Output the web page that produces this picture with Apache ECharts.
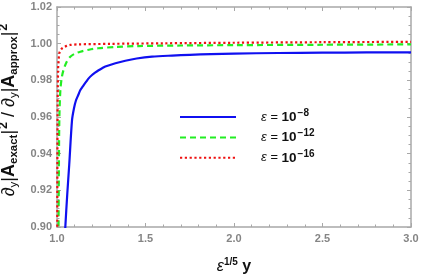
<!DOCTYPE html>
<html>
<head>
<meta charset="utf-8">
<script src="https://cdn.jsdelivr.net/npm/echarts@6/dist/echarts.min.js"></script>
<style>html,body{margin:0;padding:0;background:#fff}#c{width:421px;height:274px}</style>
</head>
<body>
<div id="c"></div>
<script>
// Data
var seriesNames = ['e8', 'e12', 'e16'];
var legendExp = ['-8', '-12', '-16'];
var blueX  = [1.045, 1.047, 1.058, 1.069, 1.085, 1.096, 1.107, 1.12, 1.132, 1.15, 1.165, 1.18, 1.198, 1.215, 1.235, 1.255, 1.273, 1.33, 1.386, 1.45, 1.537, 1.65, 1.75, 1.87, 2.0, 2.25, 2.5, 2.75, 3.0];
var blueY  = [0.895, 0.900, 0.918, 0.9338, 0.9584, 0.9648, 0.969, 0.972, 0.9747, 0.9773, 0.9793, 0.9812, 0.9829, 0.9842, 0.9855, 0.9866, 0.9875, 0.9893, 0.9907, 0.9919, 0.9929, 0.9935, 0.9939, 0.9943, 0.9946, 0.9949, 0.9951, 0.9952, 0.9953];
var greenX = [1.0085, 1.010, 1.013, 1.019, 1.027, 1.037, 1.055, 1.075, 1.10, 1.132, 1.18, 1.233, 1.33, 1.46, 1.7, 2.0, 2.5, 3.0];
var greenY = [0.895, 0.920, 0.958, 0.9747, 0.9815, 0.9857, 0.9902, 0.9929, 0.9945, 0.9956, 0.9967, 0.9975, 0.9982, 0.9987, 0.9990, 0.9992, 0.9994, 0.9996];
var redX   = [1.0015, 1.0030, 1.0060, 1.0095, 1.013, 1.020, 1.028, 1.037, 1.055, 1.075, 1.12, 1.3, 1.6, 2.0, 2.5, 3.0];
var redY   = [0.895, 0.958, 0.9857, 0.9915, 0.9948, 0.9964, 0.9974, 0.9980, 0.9988, 0.9993, 0.9996, 0.9999, 1.0002, 1.0005, 1.0008, 1.0010];
var xTicks = [1.0, 1.5, 2.0, 2.5, 3.0];
var yTicks = [0.90, 0.92, 0.94, 0.96, 0.98, 1.00, 1.02];

function pairs(xs, ys) { return xs.map(function (x, i) { return [x, ys[i]]; }); }

var chart = echarts.init(document.getElementById('c'), null, {renderer: 'canvas'});
var axisGray = '#a8a8a8';
var labelGray = '#858585';

var baseAxis = {
  axisLine: {show: true, onZero: false, lineStyle: {color: axisGray, width: 1.5}},
  axisTick: {show: true, inside: true, length: 4, lineStyle: {color: axisGray, width: 1}},
  minorTick: {show: true, length: 2.5, lineStyle: {color: axisGray, width: 1}},
  splitLine: {show: false}
};

var F = 'Liberation Sans';
var rich = {
  b: {fontSize: 18, fontFamily: F, color: '#111'},
  A: {fontSize: 18, fontFamily: F, fontWeight: 'bold', color: '#111'},
  sub: {fontSize: 11.5, fontFamily: F, fontWeight: 'bold', color: '#111', padding: [9, 0, 0, 0]},
  subn: {fontSize: 11.5, fontFamily: F, color: '#111', padding: [9, 0, 0, 0]},
  sup: {fontSize: 12.5, fontFamily: F, fontWeight: 'bold', color: '#111', padding: [0, 0, 11, 1]}
};

var option = {
  animation: false,
  backgroundColor: '#fff',
  grid: {left: 57, right: 10, top: 7, bottom: 47, containLabel: false, outerBoundsMode: 'none'},
  legend: {
    orient: 'vertical',
    left: 174, top: 103,
    itemWidth: 56, itemHeight: 14, itemGap: 4.4,
    data: seriesNames,
    itemStyle: {opacity: 0},
    formatter: function (n) {
      var i = seriesNames.indexOf(n);
      return '{e|ε = }{t|10}{s|' + legendExp[i].replace('-', '−') + '}';
    },
    textStyle: {
      rich: {
        e: {fontSize: 13, fontFamily: F, fontStyle: 'italic', color: '#111', padding: [0, 0, 0, 20]},
        t: {fontSize: 13.5, fontFamily: F, fontWeight: 'bold', color: '#111'},
        s: {fontSize: 10, fontFamily: F, fontWeight: 'bold', color: '#111', padding: [0, 0, 8, 1]}
      }
    }
  },
  xAxis: [
    Object.assign({}, baseAxis, {
      type: 'value', min: 1.0, max: 3.0, interval: 0.5, position: 'bottom',
      minorTick: Object.assign({}, baseAxis.minorTick, {splitNumber: 5}),
      axisLabel: {
        color: labelGray, fontWeight: 'bold', fontSize: 11, fontFamily: F, margin: 6,
        formatter: function (v) { return v.toFixed(1); }
      },
      name: '{e|ε}{s|1/5}{y| y}',
      nameLocation: 'middle', nameGap: 30,
      nameTextStyle: {
        rich: {
          e: {fontSize: 16, fontFamily: F, fontStyle: 'italic', color: '#111'},
          s: {fontSize: 10, fontFamily: F, fontWeight: 'bold', color: '#111', padding: [0, 0, 9, 0]},
          y: {fontSize: 16, fontFamily: F, fontWeight: 'bold', color: '#111'}
        }
      }
    }),
    Object.assign({}, baseAxis, {
      type: 'value', min: 1.0, max: 3.0, interval: 0.5, position: 'top',
      minorTick: Object.assign({}, baseAxis.minorTick, {splitNumber: 5}),
      axisLabel: {show: false}
    })
  ],
  yAxis: [
    Object.assign({}, baseAxis, {
      type: 'value', min: 0.90, max: 1.02, interval: 0.02, position: 'left',
      minorTick: Object.assign({}, baseAxis.minorTick, {splitNumber: 4}),
      axisLabel: {
        color: labelGray, fontWeight: 'bold', fontSize: 11, fontFamily: F, margin: 5,
        formatter: function (v) { return v.toFixed(2); }
      },
      name: '{b|∂}{subn|y}{b||}{A|A}{sub|exact}{b||}{sup|2}{b| / ∂}{subn|y}{b||}{A|A}{sub|approx}{b||}{sup|2}',
      nameLocation: 'middle', nameGap: 31, nameRotate: 90,
      nameTextStyle: {rich: rich, padding: [0, 0, 0, 14]}
    }),
    Object.assign({}, baseAxis, {
      type: 'value', min: 0.90, max: 1.02, interval: 0.02, position: 'right',
      minorTick: Object.assign({}, baseAxis.minorTick, {splitNumber: 4}),
      axisLabel: {show: false}
    })
  ],
  series: [
    {name: seriesNames[0], type: 'line', data: pairs(blueX, blueY), showSymbol: false, symbol: 'none',
     smooth: 0.3, clip: true,
     lineStyle: {color: '#1010f0', width: 2.2, type: 'solid'}, itemStyle: {color: '#1010f0'}, z: 3},
    {name: seriesNames[1], type: 'line', data: pairs(greenX, greenY), showSymbol: false, symbol: 'none',
     smooth: 0.3, clip: true,
     lineStyle: {color: '#22ee22', width: 2.2, type: [6, 4]}, itemStyle: {color: '#22ee22'}, z: 4},
    {name: seriesNames[2], type: 'line', data: pairs(redX, redY), showSymbol: false, symbol: 'none',
     smooth: 0.3, clip: true,
     lineStyle: {color: '#ee1111', width: 2.2, type: [2.2, 2.6]}, itemStyle: {color: '#ee1111'}, z: 5}
  ]
};
chart.setOption(option);
</script>
</body>
</html>
